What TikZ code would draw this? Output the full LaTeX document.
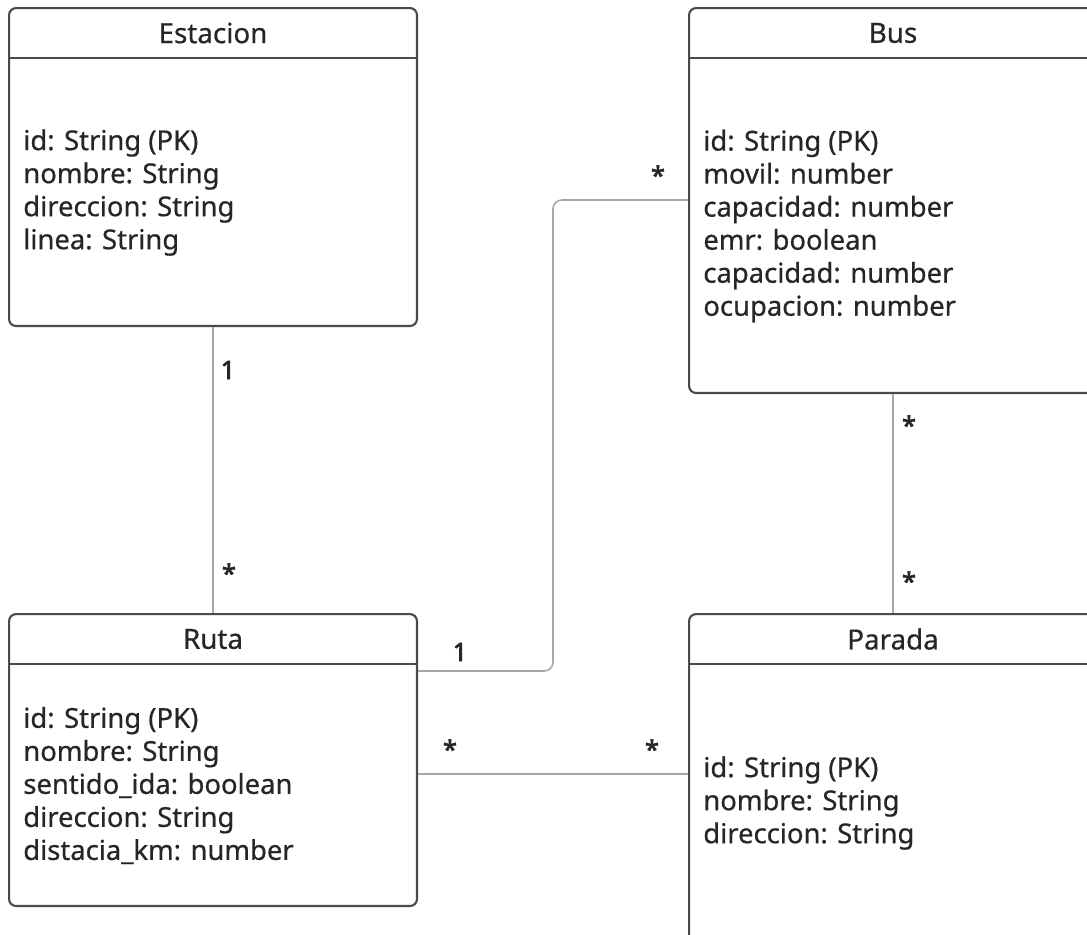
\documentclass[tikz,border=0pt]{standalone}
\usepackage{fontspec}
\setmainfont{Noto Sans}[FakeBold=0.6]
\newfontfamily\multfont{Noto Sans}[FakeBold=2.5]
\usepackage{tikz}
\usetikzlibrary{calc}
\usetikzlibrary{positioning}
\definecolor{boxline}{HTML}{4A4A4A}
\definecolor{txt}{HTML}{262626}
\definecolor{conline}{HTML}{A3A8B0}
\tikzset{classbox/.style={draw=boxline,line width=1.2pt,rounded corners=4pt,anchor=north west,inner sep=0}}
\tikzset{headline/.style={draw=boxline,line width=1.2pt}}
\tikzset{title/.style={text=txt,font=\fontsize{15.8}{17}\selectfont}}
\tikzset{attrs/.style={text=txt,font=\fontsize{15.6}{18.8}\selectfont,align=left,anchor=west,inner sep=0}}
\tikzset{conn/.style={draw=conline,line width=0.9pt}}
\tikzset{mult/.style={text=txt,font=\multfont\fontsize{14.5}{16}\selectfont,inner sep=0}}

\begin{document}
\begin{tikzpicture}[x=0.02cm,y=-0.02cm]
\path[use as bounding box,clip] (0,0) rectangle (1087,934);
\node[classbox,minimum width=8.16cm,minimum height=6.36cm] (estacion) at (8,7) {};
\node[classbox,minimum width=8.16cm,minimum height=7.7cm] (bus) at (688,7) {};
\node[classbox,minimum width=8.16cm,minimum height=5.84cm] (ruta) at (8,613) {};
\node[classbox,minimum width=8.16cm,minimum height=6.54cm] (parada) at (688,613) {};
\foreach \c/\t in {estacion/Estacion,bus/Bus,ruta/Ruta,parada/Parada}{
\node[title] (\c-title) at ($(\c.north)+(0,26)$) {\t};
\draw[headline] ($(\c.north west)+(0,51)$) -- ($(\c.north east)+(0,51)$);
}
\node[attrs] (estacion-attrs) at ($(estacion.west)+(15,25.5)$)
{id: String (PK)\\nombre: String\\direccion: String\\linea: String};
\node[attrs] (bus-attrs) at ($(bus.west)+(15,25.5)$)
{id: String (PK)\\movil: number\\capacidad: number\\emr: boolean\\capacidad: number\\ocupacion: number};
\node[attrs] (ruta-attrs) at ($(ruta.west)+(15,25.5)$)
{id: String (PK)\\nombre: String\\sentido\_ida: boolean\\direccion: String\\distacia\_km: number};
\node[attrs] (parada-attrs) at ($(parada.west)+(15,25.5)$)
{id: String (PK)\\nombre: String\\direccion: String};
\coordinate (rb1) at ($(ruta.north east)+(0,58)$);
\coordinate (rb2) at ($(bus.north west)+(0,193)$);
\coordinate (rp1) at ($(ruta.north east)+(0,161)$);
\draw[conn] (estacion.south) -- (ruta.north);
\draw[conn] (bus.south) -- (parada.north);
\draw[conn,rounded corners=5pt] (rb1) -| ($(rb1)!0.5!(rb2)$) |- (rb2);
\draw[conn] (rp1) -- (rp1 -| parada.west);
\node[mult] (m1) at (228,370) {1};
\node[mult] (m2) at (229,573) {*};
\node[mult] (m3) at (658,175) {*};
\node[mult] (m4) at (460,652) {1};
\node[mult] (m5) at (450,749) {*};
\node[mult] (m6) at (652,749) {*};
\node[mult] (m7) at (909,425) {*};
\node[mult] (m8) at (909,581) {*};
\end{tikzpicture}
\end{document}
